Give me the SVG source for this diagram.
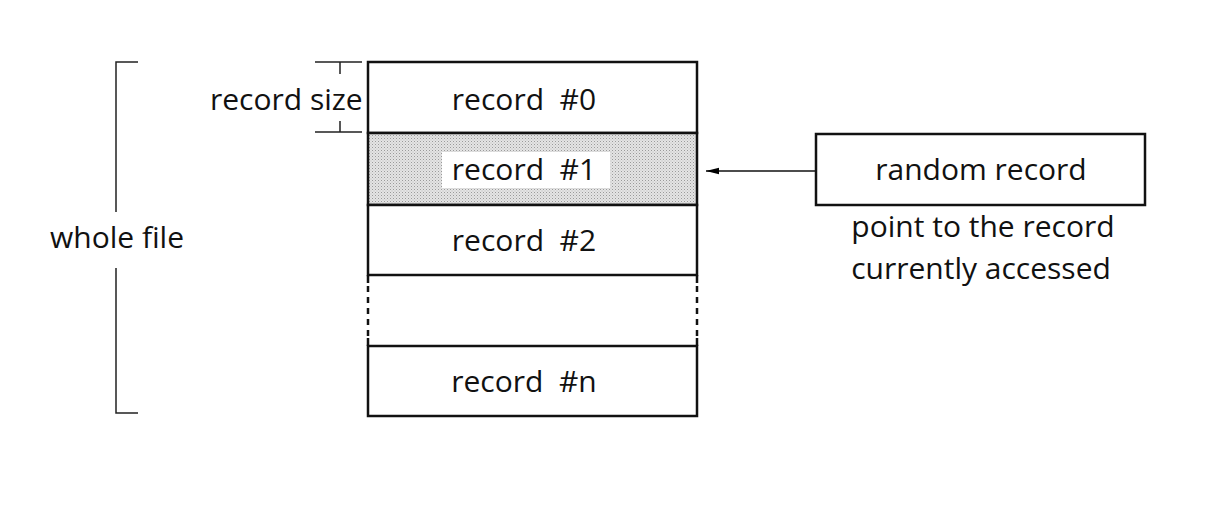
<svg xmlns="http://www.w3.org/2000/svg" width="1216" height="510" viewBox="0 0 1216 510">
<defs>
<pattern id="dots" width="3" height="3" patternUnits="userSpaceOnUse">
<rect width="3" height="3" fill="#e4e4e4"/>
<rect width="1" height="1" fill="#9a9a9a"/>
<rect x="1.5" y="1.5" width="1" height="1" fill="#b8b8b8"/>
</pattern>
<marker id="arr" markerWidth="13" markerHeight="8" refX="13" refY="4" orient="auto" markerUnits="userSpaceOnUse">
<path d="M0,0.8 L13,4 L0,7.2 Z" fill="#000"/>
</marker>
</defs>
<style>
text{font-family:"Open Sans","Noto Sans",sans-serif;font-size:30px;fill:#111;}
.c{text-anchor:middle;}
.box{fill:#fff;stroke:#111;stroke-width:2.5;}
.thin{stroke:#222;stroke-width:1.5;fill:none;}
</style>
<rect width="1216" height="510" fill="#fff"/>
<g id="bracket">
<path class="thin" d="M138,62 H116 V212 M116,268 V413 H138"/>
<text class="c" x="117" y="248">whole file</text>
</g>
<g id="recsize">
<path class="thin" d="M315,62 H362 M340,62 V74 M315,132 H362 M340,121 V132"/>
<text x="210" y="110">record size</text>
</g>
<g id="file">
<rect x="368" y="62" width="329" height="71" class="box"/>
<text class="c" x="524" y="110" xml:space="preserve">record  #0</text>
<rect x="368" y="133" width="329" height="72" fill="url(#dots)" stroke="#111" stroke-width="2.5"/>
<rect x="442" y="152" width="168" height="36" fill="#fff"/>
<text class="c" x="524" y="180" xml:space="preserve">record  #1</text>
<rect x="368" y="205" width="329" height="70" class="box"/>
<text class="c" x="524" y="251" xml:space="preserve">record  #2</text>
<path d="M368,275 V283 M697,275 V283 M368,338 V346 M697,338 V346" stroke="#111" stroke-width="2.5"/>
<path d="M368,286 V336 M697,286 V336" stroke="#111" stroke-width="2.5" stroke-dasharray="6,5"/>
<rect x="368" y="346" width="329" height="70" class="box"/>
<text class="c" x="524" y="392" xml:space="preserve">record  #n</text>
</g>
<g id="connectors">
<line x1="815" y1="171" x2="706" y2="171" stroke="#111" stroke-width="1.5" marker-end="url(#arr)"/>
</g>
<g id="random">
<rect x="816" y="134" width="329" height="71" class="box"/>
<text class="c" x="981" y="180">random record</text>
<text class="c" x="983" y="237">point to the record</text>
<text class="c" x="981" y="279">currently accessed</text>
</g>
</svg>
